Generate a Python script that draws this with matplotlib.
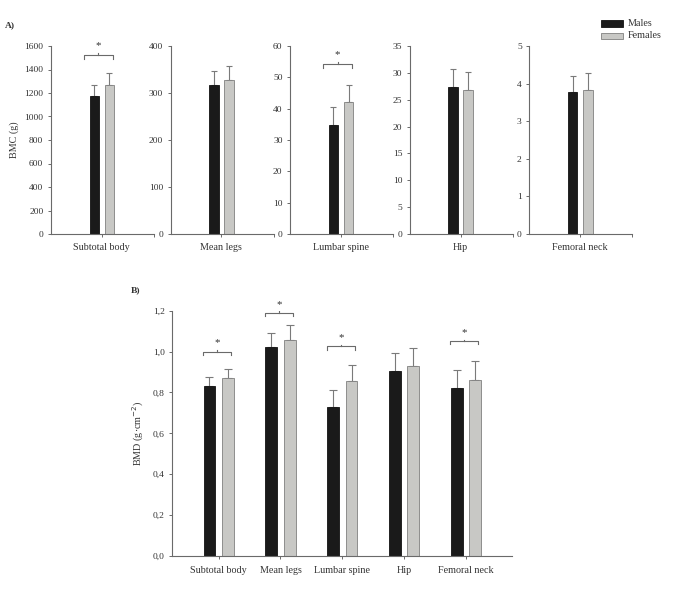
import matplotlib

matplotlib.use("Agg")
import matplotlib.pyplot as plt

# Panel A: bone mineral content
bmc_sites = ["Subtotal body", "Mean legs", "Lumbar spine", "Hip", "Femoral neck"]
bmc_males = [1172, 318, 34.8, 27.4, 3.78]
bmc_males_sd = [98, 29, 5.6, 3.3, 0.41]
bmc_females = [1265, 328, 42.0, 26.9, 3.84]
bmc_females_sd = [102, 30, 5.6, 3.3, 0.44]
bmc_ymax = [1600, 400, 60, 35, 5]
bmc_ystep = [200, 100, 10, 5, 1]
bmc_sig = [True, False, True, False, False]
bmc_sig_y = [1525, None, 54.2, None, None]

# Panel B: bone mineral density
bmd_sites = ["Subtotal body", "Mean legs", "Lumbar spine", "Hip", "Femoral neck"]
bmd_males = [0.832, 1.021, 0.730, 0.905, 0.823]
bmd_males_sd = [0.044, 0.068, 0.081, 0.087, 0.087]
bmd_females = [0.869, 1.058, 0.855, 0.929, 0.862]
bmd_females_sd = [0.046, 0.072, 0.081, 0.090, 0.090]
bmd_sig = [True, True, True, False, True]
bmd_sig_y = [1.0, 1.19, 1.025, None, 1.05]
bmd_yticks = [0.0, 0.2, 0.4, 0.6, 0.8, 1.0, 1.2]
bmd_yticklabels = ["0,0", "0,2", "0,4", "0,6", "0,8", "1,0", "1,2"]

MALE_C = "#1a1a1a"
FEMALE_C = "#c8c8c5"
AX_C = "#6a6a6a"
TXT_C = "#333333"
FS = 6.8

plt.rcParams["font.family"] = ["Liberation Serif", "DejaVu Serif"]
plt.rcParams["font.size"] = FS

fig = plt.figure(figsize=(6.73, 5.90), dpi=100)


def style_axes(ax):
    for s in ["top", "right"]:
        ax.spines[s].set_visible(False)
    for s in ["left", "bottom"]:
        ax.spines[s].set_color(AX_C)
        ax.spines[s].set_linewidth(0.8)
    ax.tick_params(colors=AX_C, labelcolor=TXT_C, labelsize=FS, length=2.5, width=0.7, pad=3)


def bracket(ax, x0, x1, y, h, star_gap):
    xc = (x0 + x1) / 2
    ax.plot([x0, x0, x1, x1], [y - h, y, y, y - h], color=AX_C, lw=0.8)
    ax.plot([xc, xc], [y, y + h * 0.6], color=AX_C, lw=0.8)
    ax.text(xc, y + star_gap, "*", ha="center", va="bottom", color=TXT_C, fontsize=FS + 1)


# ---- A) five small panels
off = 0.55
w = 0.69
for i, site in enumerate(bmc_sites):
    ax = fig.add_axes([(51 + 119.6 * i) / 673, 356 / 590, 103 / 673, 188 / 590])
    style_axes(ax)
    ax.bar(-off, bmc_males[i], w, color=MALE_C, edgecolor="#111111", lw=0.6, zorder=2)
    ax.bar(off, bmc_females[i], w, color=FEMALE_C, edgecolor="#808080", lw=0.6, zorder=2)
    ax.errorbar([-off, off], [bmc_males[i], bmc_females[i]],
                yerr=[[0, 0], [bmc_males_sd[i], bmc_females_sd[i]]],
                fmt="none", ecolor="#7a7a7a", elinewidth=0.8, capsize=2.2, capthick=0.8, zorder=1)
    ax.set_xlim(-3.7, 3.8)
    ax.set_ylim(0, bmc_ymax[i])
    ax.set_yticks(range(0, bmc_ymax[i] + 1, bmc_ystep[i]))
    ax.set_xticks([0, 3.8])
    ax.set_xticklabels(["", ""])
    ax.text(0, -0.05, site, transform=ax.get_xaxis_transform(), ha="center", va="top",
            color=TXT_C, fontsize=FS + 0.5)
    if bmc_sig[i]:
        ymax = bmc_ymax[i]
        bracket(ax, -1.3, 0.8, bmc_sig_y[i], ymax * 0.02, ymax * 0.025)
    if i == 0:
        ax.set_ylabel("BMC (g)", color=TXT_C, fontsize=FS + 0.5, labelpad=4)

fig.text(5 / 673, 1 - 25 / 590, "A)", fontsize=FS, fontweight="bold", color=TXT_C, va="center")

# legend
lax = fig.add_axes([0, 0, 1, 1], facecolor="none")
lax.set_axis_off()
lax.set_xlim(0, 673)
lax.set_ylim(590, 0)
lax.add_patch(plt.Rectangle((600.7, 20), 22.6, 6.7, facecolor=MALE_C, edgecolor="#111111", lw=0.6))
lax.add_patch(plt.Rectangle((600.7, 32.5), 22.6, 6.7, facecolor=FEMALE_C, edgecolor="#808080", lw=0.6))
lax.text(628, 23.3, "Males", va="center", ha="left", color=TXT_C, fontsize=FS + 0.5)
lax.text(628, 35.8, "Females", va="center", ha="left", color=TXT_C, fontsize=FS + 0.5)

# ---- B) BMD grouped bars
axb = fig.add_axes([172.3 / 673, 34 / 590, 340 / 673, 245.3 / 590])
style_axes(axb)
xs = list(range(len(bmd_sites)))
bo = 0.149
bw = 0.19
axb.bar([x - bo for x in xs], bmd_males, bw, color=MALE_C, edgecolor="#111111", lw=0.6, zorder=2)
axb.bar([x + bo for x in xs], bmd_females, bw, color=FEMALE_C, edgecolor="#808080", lw=0.6, zorder=2)
axb.errorbar([x - bo for x in xs], bmd_males, yerr=[[0] * 5, bmd_males_sd],
             fmt="none", ecolor="#7a7a7a", elinewidth=0.8, capsize=3, capthick=0.8, zorder=1)
axb.errorbar([x + bo for x in xs], bmd_females, yerr=[[0] * 5, bmd_females_sd],
             fmt="none", ecolor="#7a7a7a", elinewidth=0.8, capsize=3, capthick=0.8, zorder=1)
axb.set_xlim(-0.75, 4.75)
axb.set_ylim(0, 1.2)
axb.set_yticks(bmd_yticks)
axb.set_yticklabels(bmd_yticklabels)
axb.set_xticks(xs)
axb.set_xticklabels(bmd_sites, fontsize=FS + 0.5)
axb.tick_params(axis="x", pad=5)
for x, s, y in zip(xs, bmd_sig, bmd_sig_y):
    if s:
        bracket(axb, x - 0.25, x + 0.2, y, 0.015, 0.02)
axb.set_ylabel("BMD (g$\\cdot$cm$^{-2}$)", color=TXT_C, fontsize=FS + 0.5, labelpad=5)

fig.text(131 / 673, 1 - 290 / 590, "B)", fontsize=FS, fontweight="bold", color=TXT_C, va="center")

fig.savefig("out.png", dpi=100, facecolor="white")
